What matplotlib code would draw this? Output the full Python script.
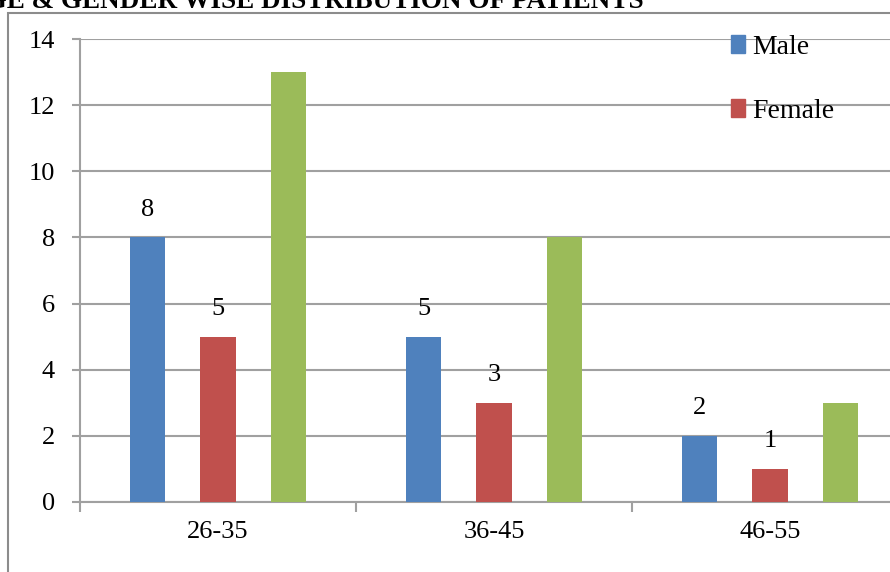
import matplotlib
matplotlib.use("Agg")
import matplotlib.pyplot as plt
from matplotlib.patches import Rectangle, Patch
import numpy as np

categories = ["26-35", "36-45", "46-55"]
male = [8, 5, 2]
female = [5, 3, 1]
total = [13, 8, 3]
yticks = [0, 2, 4, 6, 8, 10, 12, 14]
title = "AGE & GENDER WISE DISTRIBUTION OF PATIENTS"

plt.rcParams['font.family'] = ['Liberation Serif', 'DejaVu Serif']

W, H = 890, 572
fig = plt.figure(figsize=(W / 100, H / 100), dpi=100)
fig.patch.set_facecolor('white')

ax = fig.add_axes([80 / W, 70 / H, 828 / W, 463 / H])
x = np.arange(len(categories))
bw = 0.127
off = 0.254
c_m, c_f, c_t = '#4F81BD', '#C0504D', '#9BBB59'
bm = ax.bar(x - off, male, bw, color=c_m, zorder=3)
bf = ax.bar(x, female, bw, color=c_f, zorder=3)
bt = ax.bar(x + off, total, bw, color=c_t, zorder=3)

fs = 19
for bars in (bm, bf):
    ax.bar_label(bars, padding=12, fontsize=fs)

ax.set_xlim(-0.5, len(categories) - 0.5)
ax.set_ylim(0, 14)
ax.set_yticks(yticks)
ax.set_yticklabels([str(v) for v in yticks], fontsize=fs)
ax.yaxis.grid(True, color='#A0A0A0', linewidth=1.5, zorder=0)
ax.set_xticks(x)
ax.set_xticklabels(categories, fontsize=fs)
ax.set_xticks(np.arange(-0.5, len(categories), 1.0), minor=True)
ax.tick_params(axis='x', which='major', length=0, pad=14)
ax.tick_params(axis='x', which='minor', length=7, width=1.5, color='#A0A0A0', direction='out')
ax.tick_params(axis='y', length=6, width=1.5, color='#A0A0A0', pad=12)
for s in ('top', 'right'):
    ax.spines[s].set_visible(False)
for s in ('left', 'bottom'):
    ax.spines[s].set_color('#A0A0A0')
    ax.spines[s].set_linewidth(1.5)

handles = [Patch(color=c_m, label='Male'), Patch(color=c_f, label='Female')]
fig.legend(handles=handles, loc='upper left', bbox_to_anchor=(717 / W, 1 - 21 / H),
           frameon=False, fontsize=fs + 1, handlelength=0.5, handleheight=0.6,
           handletextpad=0.25, labelspacing=1.4, borderpad=0)

fig.patches.append(Rectangle((8 / W, -0.1), 1.2, 1.1 - 13 / H, transform=fig.transFigure,
                             fill=False, edgecolor='#8C8C8C', linewidth=1.5))
fig.text(-34 / W, 1 - 8 / H, title, ha='left', va='baseline', fontsize=19.5,
         fontweight='bold')

fig.savefig('out.png', dpi=100)
